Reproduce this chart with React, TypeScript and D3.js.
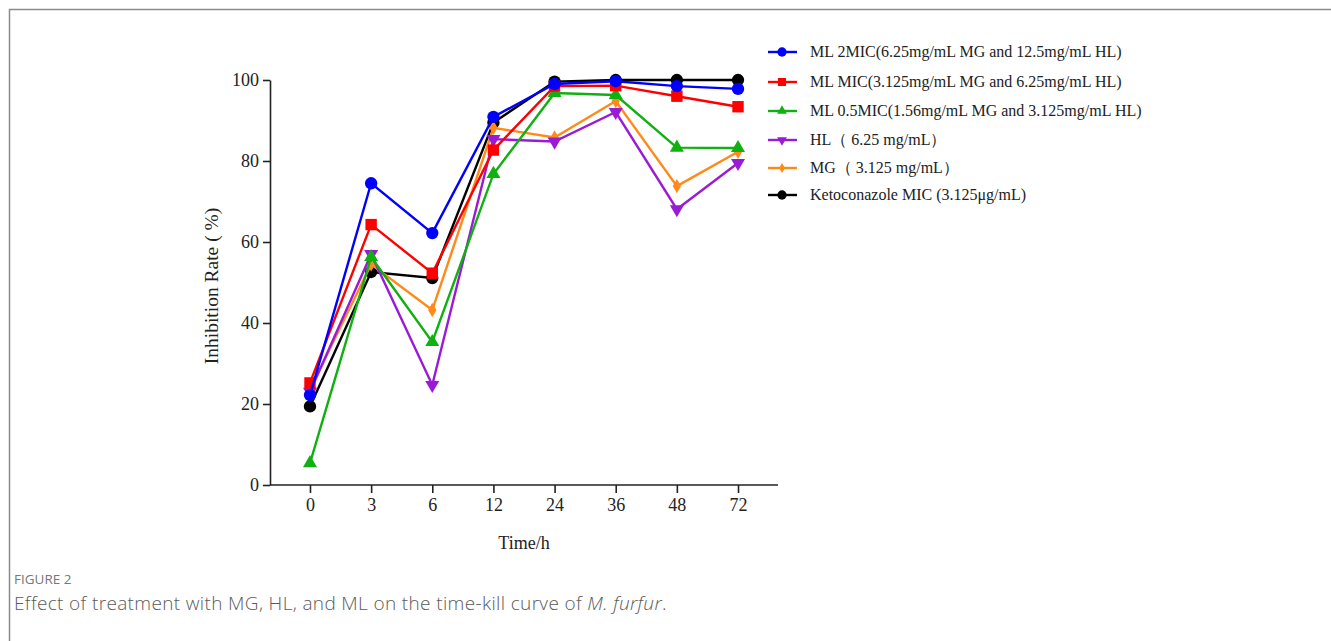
import React, { useEffect, useRef } from 'react';
import * as d3 from 'd3';

// time points (h) and series values
const times = ['0', '3', '6', '12', '24', '36', '48', '72'];
const ml2mic = [22.2, 74.5, 62.2, 90.9, 99.0, 99.7, 98.5, 97.8];
const mlMic = [25.2, 64.3, 52.3, 82.7, 98.5, 98.6, 96.0, 93.4];
const ml05mic = [5.4, 56.3, 35.3, 76.8, 96.8, 96.3, 83.3, 83.2];
const hl = [23.0, 57.0, 24.7, 85.4, 84.8, 92.1, 68.1, 79.5];
const mg = [23.5, 54.5, 43.2, 88.2, 85.8, 94.8, 73.8, 82.3];
const keto = [19.4, 52.6, 51.1, 89.5, 99.6, 100, 100, 100];
const yTicks = [0, 20, 40, 60, 80, 100];

const series = [
  { name: 'ML 2MIC(6.25mg/mL MG and 12.5mg/mL HL)', values: ml2mic, color: '#0000ff', shape: 'circle' },
  { name: 'ML MIC(3.125mg/mL MG and 6.25mg/mL HL)', values: mlMic, color: '#ff0000', shape: 'square' },
  { name: 'ML 0.5MIC(1.56mg/mL MG and 3.125mg/mL HL)', values: ml05mic, color: '#10b010', shape: 'triangle' },
  { name: 'HL（ 6.25 mg/mL）', values: hl, color: '#9a1ad6', shape: 'down' },
  { name: 'MG（ 3.125 mg/mL）', values: mg, color: '#ff8a1a', shape: 'diamond' },
  { name: 'Ketoconazole MIC (3.125μg/mL)', values: keto, color: '#000000', shape: 'circle' },
];

const W = 1331;
const H = 641;

function markerPath(shape: string) {
  if (shape === 'circle') return d3.symbol(d3.symbolCircle, 120)();
  if (shape === 'square') return d3.symbol(d3.symbolSquare, 130)();
  if (shape === 'triangle') return d3.symbol(d3.symbolTriangle, 85)();
  if (shape === 'down') return d3.symbol(d3.symbolTriangle, 85)();
  return d3.symbol(d3.symbolDiamond, 60)();
}

export default function App() {
  const ref = useRef<SVGSVGElement>(null);

  useEffect(() => {
    const svg = d3.select(ref.current);
    svg.selectAll('*').remove();

    // panel frame (top + left edges)
    svg.append('path')
      .attr('d', `M9.5,${H} V9.5 H${W}`)
      .attr('fill', 'none')
      .attr('stroke', '#8a8a8a')
      .attr('stroke-width', 1.5);

    const x = d3.scalePoint<string>().domain(times).range([270, 778]).padding(0.654);
    const y = d3.scaleLinear().domain([0, 100]).range([485, 80]);

    const font = '"Liberation Serif", "Times New Roman", serif';

    const gx = svg.append('g')
      .attr('transform', 'translate(0,485)')
      .call(d3.axisBottom(x).tickSize(8).tickPadding(5).tickSizeOuter(0));
    gx.select('.domain').attr('d', 'M270,0H778');
    const gy = svg.append('g')
      .attr('transform', 'translate(270,0)')
      .call(d3.axisLeft(y).tickValues(yTicks).tickSize(7).tickPadding(4).tickSizeOuter(0));
    [gx, gy].forEach(g => {
      g.selectAll('path, line').attr('stroke', '#222').attr('stroke-width', 1.6);
      g.selectAll('text').attr('font-family', font).attr('font-size', 18).attr('fill', '#222');
    });

    svg.append('text')
      .attr('x', 524).attr('y', 549)
      .attr('text-anchor', 'middle')
      .attr('font-family', font).attr('font-size', 18).attr('fill', '#222')
      .text('Time/h');
    svg.append('text')
      .attr('transform', 'translate(218,286) rotate(-90)')
      .attr('text-anchor', 'middle')
      .attr('font-family', font).attr('font-size', 19.5).attr('fill', '#222')
      .text('Inhibition Rate ( %)');

    const line = d3.line<number>()
      .x((_, i) => x(times[i]) as number)
      .y(d => y(d));

    const drawOrder = series.slice().reverse();
    drawOrder.forEach(s => {
      const g = svg.append('g');
      g.append('path')
        .datum(s.values)
        .attr('d', line)
        .attr('fill', 'none')
        .attr('stroke', s.color)
        .attr('stroke-width', 2.4);
      g.selectAll('path.m')
        .data(s.values)
        .join('path')
        .attr('class', 'm')
        .attr('d', markerPath(s.shape))
        .attr('transform', (d, i) => `translate(${x(times[i])},${y(d)})${s.shape === 'down' ? ' rotate(180)' : ''}`)
        .attr('fill', s.color);
    });

    // legend
    const lg = svg.append('g');
    const legendY = [52, 82, 111, 140, 168, 195];
    series.forEach((s, i) => {
      const yy = legendY[i];
      lg.append('line')
        .attr('x1', 768).attr('x2', 797).attr('y1', yy).attr('y2', yy)
        .attr('stroke', s.color).attr('stroke-width', 2.4);
      const scale = s.shape === 'circle' ? 0.75 : 0.7;
      lg.append('path')
        .attr('d', markerPath(s.shape))
        .attr('transform', `translate(782,${yy}) scale(${scale})${s.shape === 'down' ? ' rotate(180)' : ''}`)
        .attr('fill', s.color);
      lg.append('text')
        .attr('x', 810).attr('y', yy + 5)
        .attr('font-family', font).attr('font-size', 16).attr('fill', '#222')
        .text(s.name);
    });

    // caption
    const cap = '"Open Sans", "Noto Sans", sans-serif';
    svg.append('text')
      .attr('x', 14).attr('y', 584)
      .attr('font-family', cap).attr('font-size', 13.5).attr('fill', '#777')
      .text('FIGURE 2');
    const c = svg.append('text')
      .attr('x', 14).attr('y', 610)
      .attr('font-family', cap).attr('font-size', 19).attr('letter-spacing', 0.35)
      .attr('font-weight', 300).attr('fill', '#5a5a5a');
    c.append('tspan').text('Effect of treatment with MG, HL, and ML on the time-kill curve of ');
    c.append('tspan').attr('font-style', 'italic').text('M. furfur');
    c.append('tspan').text('.');
  }, []);

  return (
    <svg ref={ref} width={W} height={H} style={{ position: 'absolute', left: 0, top: 0, background: '#fff' }} />
  );
}
